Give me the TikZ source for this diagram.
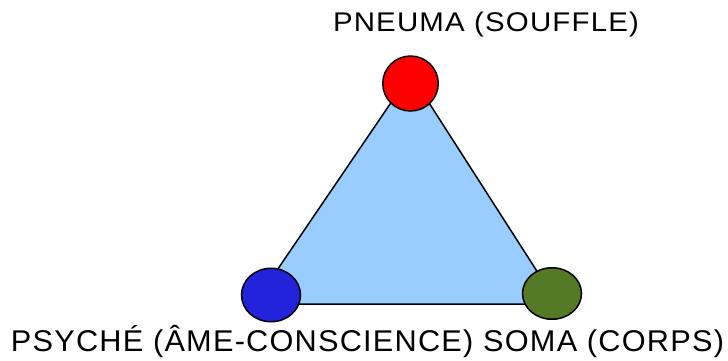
\documentclass[tikz,border=0pt]{standalone}
\usepackage{fontspec}
\setmainfont{Liberation Sans}
\newfontfamily\spacedfont[LetterSpace=4]{Liberation Sans}
\usepackage{graphicx}
\usetikzlibrary{shapes.geometric}
\definecolor{trifill}{RGB}{153,204,255}
\definecolor{pneumared}{RGB}{255,0,0}
\definecolor{psycheblue}{RGB}{35,35,220}
\definecolor{somagreen}{RGB}{84,122,38}
\begin{document}
\begin{tikzpicture}[x=1pt,y=-1pt,
  vertex/.style={ellipse, draw=black, line width=1.5pt, inner sep=0pt},
  label/.style={anchor=base, inner sep=0pt, text=black}]
\useasboundingbox (0,0) rectangle (728,360);
\coordinate (A) at (410.5,74);
\coordinate (B) at (254,304);
\coordinate (C) at (558,304);
\draw[fill=trifill, line width=1.5pt, line join=miter] (A) -- (B) -- (C) -- cycle;
\node[vertex, fill=pneumared, minimum width=55.5pt, minimum height=55pt] (pneuma) at (410.5,83.5) {};
\node[vertex, fill=psycheblue, minimum width=59pt, minimum height=53.5pt] (psyche) at (271,295) {};
\node[vertex, fill=somagreen, minimum width=59pt, minimum height=51.5pt] (soma) at (552,293.5) {};
\node[label] (toptext) at (486,31) {\resizebox{306pt}{\height}{\fontsize{27}{30}\spacedfont PNEUMA (SOUFFLE)}};
\node[label] (bottomtext) at (367.5,351) {\resizebox{713pt}{\height}{\fontsize{30}{33}\spacedfont PSYCHÉ (ÂME-CONSCIENCE) SOMA (CORPS)}};
\end{tikzpicture}
\end{document}
